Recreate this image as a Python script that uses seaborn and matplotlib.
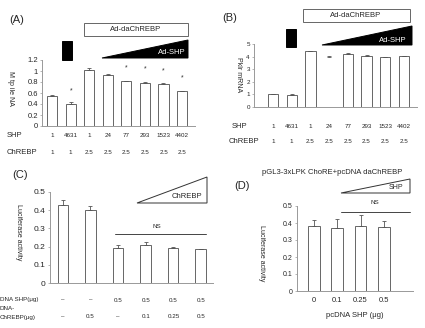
import numpy as np
import pandas as pd
import matplotlib
matplotlib.use("Agg")
import matplotlib.pyplot as plt
from matplotlib.patches import Rectangle, Polygon
import seaborn as sns

# ---- data ----
a_shp = ["1", "4631", "1", "24", "77", "293", "1523", "4402"]
a_chrebp = ["1", "1", "2.5", "2.5", "2.5", "2.5", "2.5", "2.5"]
a_vals = [0.55, 0.40, 1.02, 0.93, 0.81, 0.79, 0.76, 0.64]
a_err = [0.02, 0.03, 0.03, 0.01, 0.01, 0.01, 0.02, 0.0]
a_star = [False, True, False, False, True, True, True, True]

b_vals = [1.0, 0.95, 4.45, 4.0, 4.2, 4.05, 3.95, 4.05]
b_err = [0.02, 0.08, 0.02, 0.03, 0.12, 0.05, 0.02, 0.02]

c_vals = [0.43, 0.40, 0.195, 0.21, 0.195, 0.185]
c_err = [0.025, 0.022, 0.012, 0.017, 0.004, 0.004]
c_shp = ["\u2013", "\u2013", "0.5", "0.5", "0.5", "0.5"]
c_chrebp = ["\u2013", "0.5", "\u2013", "0.1", "0.25", "0.5"]

d_labels = ["0", "0.1", "0.25", "0.5"]
d_vals = [0.38, 0.37, 0.38, 0.375]
d_err = [0.035, 0.055, 0.065, 0.035]

W, H = 425, 328
sns.set_theme(style="white")
plt.rcParams['font.family'] = ['Liberation Sans', 'DejaVu Sans']
fig = plt.figure(figsize=(W / 100, H / 100), dpi=100)

def fx(x):
    return x / W

def fy(y):
    return 1 - y / H

def ftext(x, y, s, **kw):
    kw.setdefault("fontsize", 5)
    kw.setdefault("ha", "center")
    kw.setdefault("va", "center")
    fig.text(fx(x), fy(y), s, **kw)

def box(x0, x1, y0, y1, fc, ec):
    fig.add_artist(Rectangle((fx(x0), fy(y1)), fx(x1) - fx(x0), fy(y0) - fy(y1),
                             transform=fig.transFigure, fc=fc, ec=ec, lw=0.7))

def tri(pts, fc, ec):
    fig.add_artist(Polygon([(fx(x), fy(y)) for x, y in pts], closed=True,
                           transform=fig.transFigure, fc=fc, ec=ec, lw=0.7))

def axes_px(left, right, top, bottom):
    return fig.add_axes([fx(left), fy(bottom), fx(right) - fx(left), fy(top) - fy(bottom)])

def bars(ax, vals, err, width, xlim, ylim, yticks, fs=5):
    pos = np.arange(len(vals))
    df = pd.DataFrame({"pos": pos, "val": vals})
    sns.barplot(data=df, x="pos", y="val", color="white", edgecolor="#666666",
                linewidth=0.7, width=width, errorbar=None, native_scale=True, ax=ax)
    ax.errorbar(pos, vals, yerr=[np.zeros(len(err)), err], fmt="none",
                ecolor="#555555", elinewidth=0.6, capsize=1.5, capthick=0.6)
    ax.set_xlim(*xlim)
    ax.set_ylim(*ylim)
    ax.set_yticks(yticks)
    ax.set_xticks([])
    ax.set_xlabel("")
    ax.set_ylabel("")
    ax.patch.set_alpha(0)
    for s in ["top", "right"]:
        ax.spines[s].set_visible(False)
    for s in ["left", "bottom"]:
        ax.spines[s].set_color("#999999")
        ax.spines[s].set_linewidth(0.7)
    ax.tick_params(axis="y", labelsize=fs, length=1.5, width=0.5, pad=1.5,
                   color="#999999", left=True)
    return pos

# ---- panel A ----
axA = axes_px(42, 195, 60, 126)
bars(axA, a_vals, a_err, 0.55, (-0.55, 7.7), (0, 1.2), [0, 0.2, 0.4, 0.6, 0.8, 1, 1.2], fs=5.5)
axA.set_yticklabels(["0", "0.2", "0.4", "0.6", "0.8", "1", "1.2"])
for i, (v, s) in enumerate(zip(a_vals, a_star)):
    if s:
        axA.text(i, v + 0.24, "*", ha="center", va="center", fontsize=5, color="#333333")
ftext(17, 20, "(A)", fontsize=8)
ftext(10, 88, "M tp ile NA", rotation=270, fontsize=5)
box(84, 188, 23, 36, "white", "#666666")
ftext(136, 29.5, "Ad-daChREBP", fontsize=5.5)
box(62, 72, 41, 60, "black", "black")
tri([(102, 58), (188, 40), (188, 58)], "black", "black")
ftext(172, 52, "Ad-SHP", fontsize=5.5, color="white")
ftext(7, 136, "SHP", ha="left", fontsize=5.5)
ftext(7, 152, "ChREBP", ha="left", fontsize=5.5)
for i, (s, c) in enumerate(zip(a_shp, a_chrebp)):
    xp = 52 + i * 18.6
    ftext(xp, 136, s, fontsize=4.5)
    ftext(xp, 152, c, fontsize=4.5)

# ---- panel B ----
axB = axes_px(254, 417, 44, 107)
bars(axB, b_vals, b_err, 0.55, (-1.02, 7.7), (0, 5), [0, 1, 2, 3, 4, 5], fs=4.5)
axB.patches[3].set_edgecolor("none")
ftext(230, 18, "(B)", fontsize=8)
ftext(238, 75, "Pklr mRNA", rotation=270, fontsize=5)
box(303, 410, 9, 22, "white", "#666666")
ftext(356, 15.5, "Ad-daChREBP", fontsize=5.5)
box(286, 296, 29, 47, "black", "black")
tri([(322, 45), (412, 26), (412, 45)], "black", "black")
ftext(393, 40, "Ad-SHP", fontsize=5.5, color="white")
ftext(232, 127, "SHP", ha="left", fontsize=5.5)
ftext(229, 141, "ChREBP", ha="left", fontsize=5.5)
for i, (s, c) in enumerate(zip(a_shp, a_chrebp)):
    xp = 273 + i * 18.7
    ftext(xp, 127, s, fontsize=4.5)
    ftext(xp, 141, c, fontsize=4.5)
ftext(332, 173, "pGL3-3xLPK ChoRE+pcDNA daChREBP", fontsize=5.5)

# ---- panel C ----
axC = axes_px(50, 213, 192, 283)
bars(axC, c_vals, c_err, 0.38, (-0.47, 5.45), (0, 0.5), [0, 0.1, 0.2, 0.3, 0.4, 0.5], fs=6)
axC.set_yticklabels(["0", "0.1", "0.2", "0.3", "0.4", "0.5"])
ftext(20, 175, "(C)", fontsize=8)
ftext(18, 232, "Luciferase activity", rotation=270, fontsize=5)
tri([(137, 203), (207, 177), (207, 203)], "white", "#333333")
ftext(187, 197, "ChREBP", fontsize=5.5)
fig.add_artist(plt.Line2D([fx(115), fx(206)], [fy(234), fy(234)],
                          transform=fig.transFigure, color="#444444", lw=0.7))
ftext(157, 227, "NS", fontsize=4.5)
ftext(0, 300, "DNA SHP(\u03bcg)", ha="left", fontsize=4.5)
ftext(0, 309, "DNA-", ha="left", fontsize=4.5)
ftext(0, 317, "ChREBP(\u03bcg)", ha="left", fontsize=4.5)
for i, (s, c) in enumerate(zip(c_shp, c_chrebp)):
    xp = 63 + i * 27.6
    ftext(xp, 300, s, fontsize=4.5)
    ftext(xp, 317, c, fontsize=4.5)

# ---- panel D ----
axD = axes_px(297, 413, 206, 291)
posD = bars(axD, d_vals, d_err, 0.5, (-0.73, 4.25), (0, 0.5), [0, 0.1, 0.2, 0.3, 0.4, 0.5], fs=5)
axD.set_yticklabels(["0", "0.1", "0.2", "0.3", "0.4", "0.5"])
axD.set_xticks(posD)
axD.set_xticklabels(d_labels)
axD.tick_params(axis="x", labelsize=5.5, length=0, pad=4)
axD.set_xlabel("pcDNA SHP (\u03bcg)", fontsize=5.5, labelpad=6)
ftext(242, 186, "(D)", fontsize=8)
ftext(262, 253, "Luciferase activity", rotation=270, fontsize=5)
tri([(341, 193), (410, 179), (410, 193)], "white", "#333333")
ftext(396, 188, "SHP", fontsize=5)
fig.add_artist(plt.Line2D([fx(341), fx(410)], [fy(212), fy(212)],
                          transform=fig.transFigure, color="#444444", lw=0.7))
ftext(375, 203, "NS", fontsize=4.5)

fig.savefig("out.png", dpi=100)
